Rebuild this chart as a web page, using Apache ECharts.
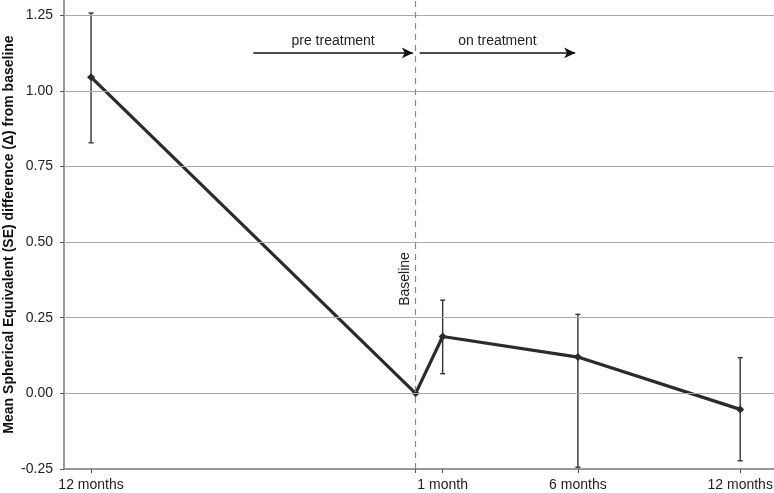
<!DOCTYPE html>
<html><head><meta charset="utf-8">
<script src="https://cdn.jsdelivr.net/npm/echarts@6/dist/echarts.min.js"></script>
<style>html,body{margin:0;padding:0;background:#fff}#c{width:774px;height:493px}</style>
</head><body><div id="c"></div>
<script>
// Data (x in months relative to baseline)
const months = [-12, 0, 1, 6, 12];
const meanDelta = [1.045, 0.0, 0.188, 0.12, -0.053];
const errLow = [0.828, 0.0, 0.065, -0.244, -0.223];
const errHigh = [1.257, 0.0, 0.308, 0.261, 0.118];
const xTickValues = [-12, 0, 1, 6, 12];
const xLabelValues = [-12, 1, 6, 12];
const xLabelTexts = {'-12': '12 months', '1': '1 month', '6': '6 months', '12': '12 months'};
const yTicks = [-0.25, 0, 0.25, 0.5, 0.75, 1, 1.25];
const gridValues = [0, 0.25, 0.5, 0.75, 1, 1.25];
const preArrow = {from: -6, to: -0.1, y: 1.125, text: 'pre treatment'};
const onArrow = {from: 0.15, to: 5.9, y: 1.125, text: 'on treatment'};

const font = "'Liberation Sans', Arial, sans-serif";
const chart = echarts.init(document.getElementById('c'));
const lineData = months.map((m, i) => [m, meanDelta[i]]);
const errData = months.map((m, i) => [m, errLow[i], errHigh[i]]).filter(d => d[1] !== d[2]);

chart.setOption({
  animation: false,
  backgroundColor: '#fff',
  grid: {left: 64, right: 0, top: 0, bottom: 24, containLabel: false, outerBoundsMode: 'none'},
  xAxis: {
    type: 'value', min: -13, max: 13.25,
    axisLine: {show: true, onZero: false, lineStyle: {color: '#777', width: 1.5}},
    axisTick: {show: true, customValues: xTickValues, length: 4, lineStyle: {color: '#555'}},
    axisLabel: {customValues: xLabelValues, formatter: v => xLabelTexts[String(v)] || '',
      color: '#222', fontFamily: font, fontSize: 14, margin: 9},
    splitLine: {show: false}
  },
  yAxis: {
    type: 'value', min: -0.25, max: 1.30,
    name: 'Mean Spherical Equivalent (SE) difference (\u0394) from baseline',
    nameLocation: 'middle', nameGap: 48, nameMoveOverlap: false,
    nameTextStyle: {fontFamily: font, fontSize: 14, fontWeight: 'bold', color: '#111'},
    axisLine: {show: true, onZero: false, lineStyle: {color: '#777', width: 1.5}},
    axisTick: {show: true, customValues: yTicks, length: 4, lineStyle: {color: '#555'}},
    axisLabel: {customValues: yTicks, formatter: v => v.toFixed(2),
      color: '#222', fontFamily: font, fontSize: 14, margin: 11},
    splitLine: {show: false}
  },
  series: [
    {
      type: 'line', data: [], silent: true,
      markLine: {
        silent: true, symbol: ['none', 'none'], animation: false,
        label: {show: false},
        lineStyle: {color: '#aaa', width: 1, type: 'solid'},
        data: gridValues.map(v => ({yAxis: v}))
      }
    },
    {
      type: 'line', data: [], silent: true,
      markLine: {
        silent: true, symbol: ['none', 'none'], animation: false,
        label: {show: false},
        lineStyle: {color: '#888', width: 1.2, type: [6, 5]},
        data: [{xAxis: 0}]
      }
    },
    {
      type: 'line', data: [], silent: true,
      markLine: {
        silent: true, symbol: ['none', 'arrow'], symbolSize: [8, 11], animation: false,
        lineStyle: {color: '#111', width: 1.5, type: 'solid'},
        label: {show: true, position: 'middle', color: '#222', fontFamily: font, fontSize: 14, distance: 5},
        data: [preArrow, onArrow].map(a => [
          {coord: [a.from, a.y], label: {formatter: a.text}},
          {coord: [a.to, a.y]}
        ])
      }
    },
    {
      type: 'custom', data: errData, z: 3,
      renderItem: function (params, api) {
        const x = api.value(0), lo = api.value(1), hi = api.value(2);
        const p1 = api.coord([x, hi]), p2 = api.coord([x, lo]);
        const cap = 2.5;
        const st = {stroke: '#333', lineWidth: 1.4};
        return {type: 'group', children: [
          {type: 'line', shape: {x1: p1[0], y1: p1[1], x2: p2[0], y2: p2[1]}, style: st},
          {type: 'line', shape: {x1: p1[0] - cap, y1: p1[1], x2: p1[0] + cap, y2: p1[1]}, style: st},
          {type: 'line', shape: {x1: p2[0] - cap, y1: p2[1], x2: p2[0] + cap, y2: p2[1]}, style: st}
        ]};
      }
    },
    {
      type: 'line', data: lineData, z: 4,
      symbol: 'diamond', symbolSize: 8,
      lineStyle: {color: '#2b2b2b', width: 3.2},
      itemStyle: {color: '#2b2b2b'}
    }
  ],
  graphic: [{
    type: 'text', x: 405, y: 279, rotation: Math.PI / 2,
    style: {text: 'Baseline', fill: '#222', font: '14px ' + font, align: 'center', verticalAlign: 'middle'}
  }]
});
</script></body></html>
